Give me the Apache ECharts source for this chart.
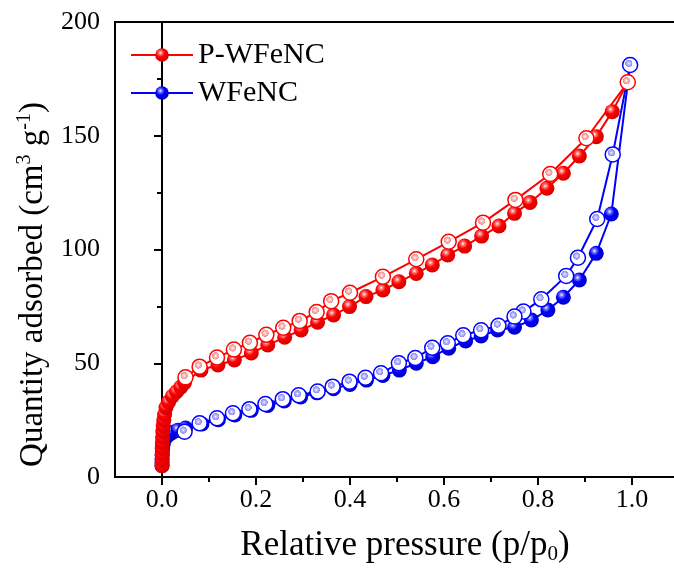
<!DOCTYPE html>
<html>
<head>
<meta charset="utf-8">
<script src="https://cdn.jsdelivr.net/npm/echarts@6/dist/echarts.min.js"></script>
<style>
  html, body { margin: 0; padding: 0; background: #ffffff; }
  #chart { width: 674px; height: 569px; }
</style>
</head>
<body>
<div id="chart"></div>
<script>
// N2 sorption isotherms: relative pressure p/p0 vs quantity adsorbed (cm3 g-1)

// P-WFeNC adsorption branch
const pwAdsP = [0.00005, 0.0001, 0.0002, 0.0004, 0.0007, 0.0011, 0.0017, 0.0026, 0.0038, 0.0055, 0.0085,
  0.014, 0.022, 0.031, 0.040, 0.048, 0.083, 0.119, 0.154, 0.190, 0.225, 0.261, 0.296, 0.331, 0.365,
  0.399, 0.434, 0.470, 0.504, 0.541, 0.575, 0.608, 0.644, 0.680, 0.717, 0.750, 0.783, 0.819, 0.854,
  0.888, 0.924, 0.958, 0.991];
const pwAdsQ = [5.0, 7.5, 10.0, 12.5, 15.0, 17.5, 20.0, 22.5, 25.0, 27.5, 30.5,
  33.0, 35.5, 37.5, 39.5, 41.5, 47.0, 49.2, 51.4, 54.5, 58.0, 61.4, 64.6, 68.0, 71.2,
  74.9, 79.3, 82.2, 85.8, 89.5, 93.2, 97.6, 101.5, 105.9, 110.3, 115.9, 120.7, 126.9, 133.5,
  141.1, 149.6, 160.6, 173.5];

// P-WFeNC desorption branch
const pwDesP = [0.991, 0.903, 0.826, 0.752, 0.683, 0.610, 0.541, 0.470, 0.400, 0.360, 0.329,
  0.293, 0.258, 0.222, 0.187, 0.153, 0.117, 0.080, 0.050];
const pwDesQ = [173.5, 148.9, 133.2, 121.8, 111.8, 103.4, 95.7, 88.0, 81.0, 77.3, 72.5,
  68.6, 65.6, 62.5, 59.0, 56.0, 52.5, 48.5, 43.8];

// WFeNC adsorption branch
const wAdsP = [0.00005, 0.0001, 0.0002, 0.0004, 0.0007, 0.0012, 0.002, 0.0035, 0.006, 0.010, 0.016,
  0.023, 0.034, 0.050, 0.085, 0.120, 0.155, 0.190, 0.225, 0.260, 0.295, 0.330, 0.365, 0.400,
  0.435, 0.470, 0.505, 0.541, 0.576, 0.610, 0.646, 0.679, 0.714, 0.750, 0.786, 0.821, 0.854,
  0.888, 0.924, 0.956, 0.996];
const wAdsQ = [5.0, 6.5, 8.0, 9.5, 11.0, 12.5, 14.0, 15.5, 16.8, 17.8, 18.8,
  19.7, 20.6, 21.5, 23.3, 25.2, 27.3, 29.3, 31.4, 33.4, 35.2, 37.0, 38.8, 40.7,
  42.6, 44.6, 47.0, 50.0, 52.9, 56.6, 59.8, 62.0, 64.6, 65.8, 69.0, 73.4, 79.0,
  86.6, 98.3, 115.6, 181.1];

// WFeNC desorption branch
const wDesP = [0.996, 0.959, 0.926, 0.885, 0.860, 0.807, 0.769, 0.750, 0.716, 0.679, 0.641,
  0.608, 0.575, 0.539, 0.504, 0.466, 0.433, 0.399, 0.363, 0.331, 0.291, 0.257, 0.220,
  0.186, 0.151, 0.117, 0.080, 0.048];
const wDesQ = [181.1, 141.8, 113.4, 96.4, 88.4, 78.1, 72.7, 70.5, 66.5, 64.5, 62.3,
  58.8, 56.8, 52.3, 50.0, 45.6, 43.6, 41.9, 39.7, 37.6, 35.9, 34.2, 32.1,
  29.8, 28.0, 25.8, 23.6, 19.9];

const xMajorTicks = [0, 0.2, 0.4, 0.6, 0.8, 1.0];
const xMinorTicks = [0.1, 0.3, 0.5, 0.7, 0.9];

const FONT = 'Liberation Serif';
const RED = '#ff0000';
const BLUE = '#0000ff';

function pairs(xs, ys) {
  return xs.map((x, i) => [x, ys[i]]);
}

// shaded sphere fill for adsorption points
function ball(base, light, dark) {
  return {
    type: 'radial', x: 0.38, y: 0.34, r: 0.62,
    colorStops: [
      { offset: 0, color: '#ffffff' },
      { offset: 0.18, color: light },
      { offset: 0.5, color: base },
      { offset: 1, color: dark }
    ]
  };
}

// hollow marker with a small glossy spot for desorption points
function hollow(spot, spotEdge) {
  return {
    type: 'radial', x: 0.42, y: 0.4, r: 0.5,
    colorStops: [
      { offset: 0, color: '#ffffff' },
      { offset: 0.12, color: spot },
      { offset: 0.42, color: spotEdge },
      { offset: 0.46, color: '#ffffff' },
      { offset: 1, color: '#ffffff' }
    ]
  };
}

function series(name, data, color, fill, isHollow) {
  return {
    name: name,
    type: 'line',
    xAxisIndex: 0,
    data: data,
    symbol: 'circle',
    symbolSize: 15,
    showAllSymbol: true,
    lineStyle: { color: color, width: 2 },
    itemStyle: {
      color: fill,
      borderColor: color,
      borderWidth: isHollow ? 1.5 : 0
    },
    emphasis: { disabled: true },
    animation: false
  };
}

const chart = echarts.init(document.getElementById('chart'), null, { renderer: 'canvas' });

chart.setOption({
  backgroundColor: '#ffffff',
  animation: false,
  grid: {
    left: 115, right: -5, top: 22, bottom: 92,
    containLabel: false,
    outerBoundsMode: 'none',
    show: true, borderColor: '#000', borderWidth: 2, backgroundColor: 'transparent'
  },
  legend: {
    data: ['P-WFeNC', 'WFeNC'],
    orient: 'vertical',
    left: 125, top: 35,
    itemWidth: 62, itemHeight: 17, itemGap: 8,
    selectedMode: false,
    textStyle: { fontFamily: FONT, fontSize: 30, color: '#000', lineHeight: 30 }
  },
  xAxis: [
    {
      type: 'value', min: -0.1, max: 1.1, position: 'bottom',
      axisLine: { lineStyle: { color: '#000', width: 2 } },
      axisTick: { customValues: xMajorTicks, length: 8, lineStyle: { color: '#000', width: 2 } },
      axisLabel: {
        customValues: xMajorTicks, margin: 10,
        formatter: v => v.toFixed(1),
        fontFamily: FONT, fontSize: 26, color: '#000'
      },
      splitLine: { show: false },
      name: '{t|Relative pressure (p/p}{s|0}{t|)}',
      nameLocation: 'middle', nameGap: 50,
      nameTextStyle: {
        padding: [0, 0, 0, 16],
        rich: {
          t: { fontFamily: FONT, fontSize: 35, color: '#000', lineHeight: 38 },
          s: { fontFamily: FONT, fontSize: 21, color: '#000', verticalAlign: 'bottom', lineHeight: 38, padding: [15, 0, 0, 0] }
        }
      }
    },
    {
      type: 'value', min: -0.1, max: 1.1, position: 'bottom',
      axisLine: { show: false },
      axisTick: { customValues: xMinorTicks, length: 5, lineStyle: { color: '#000', width: 2 } },
      axisLabel: { show: false },
      splitLine: { show: false }
    }
  ],
  yAxis: {
    type: 'value', min: 0, max: 200, interval: 50,
    axisLine: { show: true, lineStyle: { color: '#000', width: 2 } },
    axisTick: { show: true, length: 8, lineStyle: { color: '#000', width: 2 } },
    minorTick: { show: true, splitNumber: 2, length: 5, lineStyle: { color: '#000', width: 2 } },
    axisLabel: { margin: 15, fontFamily: FONT, fontSize: 26, color: '#000' },
    splitLine: { show: false },
    minorSplitLine: { show: false },
    name: '{t|Quantity adsorbed (cm}{p|3}{t| g}{p|-1}{t|)}',
    nameLocation: 'middle', nameRotate: 90, nameGap: 64,
    nameTextStyle: {
      padding: [0, 70, 0, 0],
      rich: {
        t: { fontFamily: FONT, fontSize: 33, color: '#000', lineHeight: 36 },
        p: { fontFamily: FONT, fontSize: 20, color: '#000', verticalAlign: 'top', lineHeight: 36, padding: [0, 0, 14, 0] }
      }
    }
  },
  series: [
    series('WFeNC', pairs(wAdsP, wAdsQ), BLUE, ball('#0000ff', '#8080ff', '#0000c8'), false),
    series('WFeNC desorption', pairs(wDesP, wDesQ), BLUE, hollow('#c8c8ff', '#8c8cf0'), true),
    series('P-WFeNC', pairs(pwAdsP, pwAdsQ), RED, ball('#ff0000', '#ff8080', '#d80000'), false),
    series('P-WFeNC desorption', pairs(pwDesP, pwDesQ), RED, hollow('#ffd0d0', '#f08c8c'), true)
  ]
});
</script>
</body>
</html>
